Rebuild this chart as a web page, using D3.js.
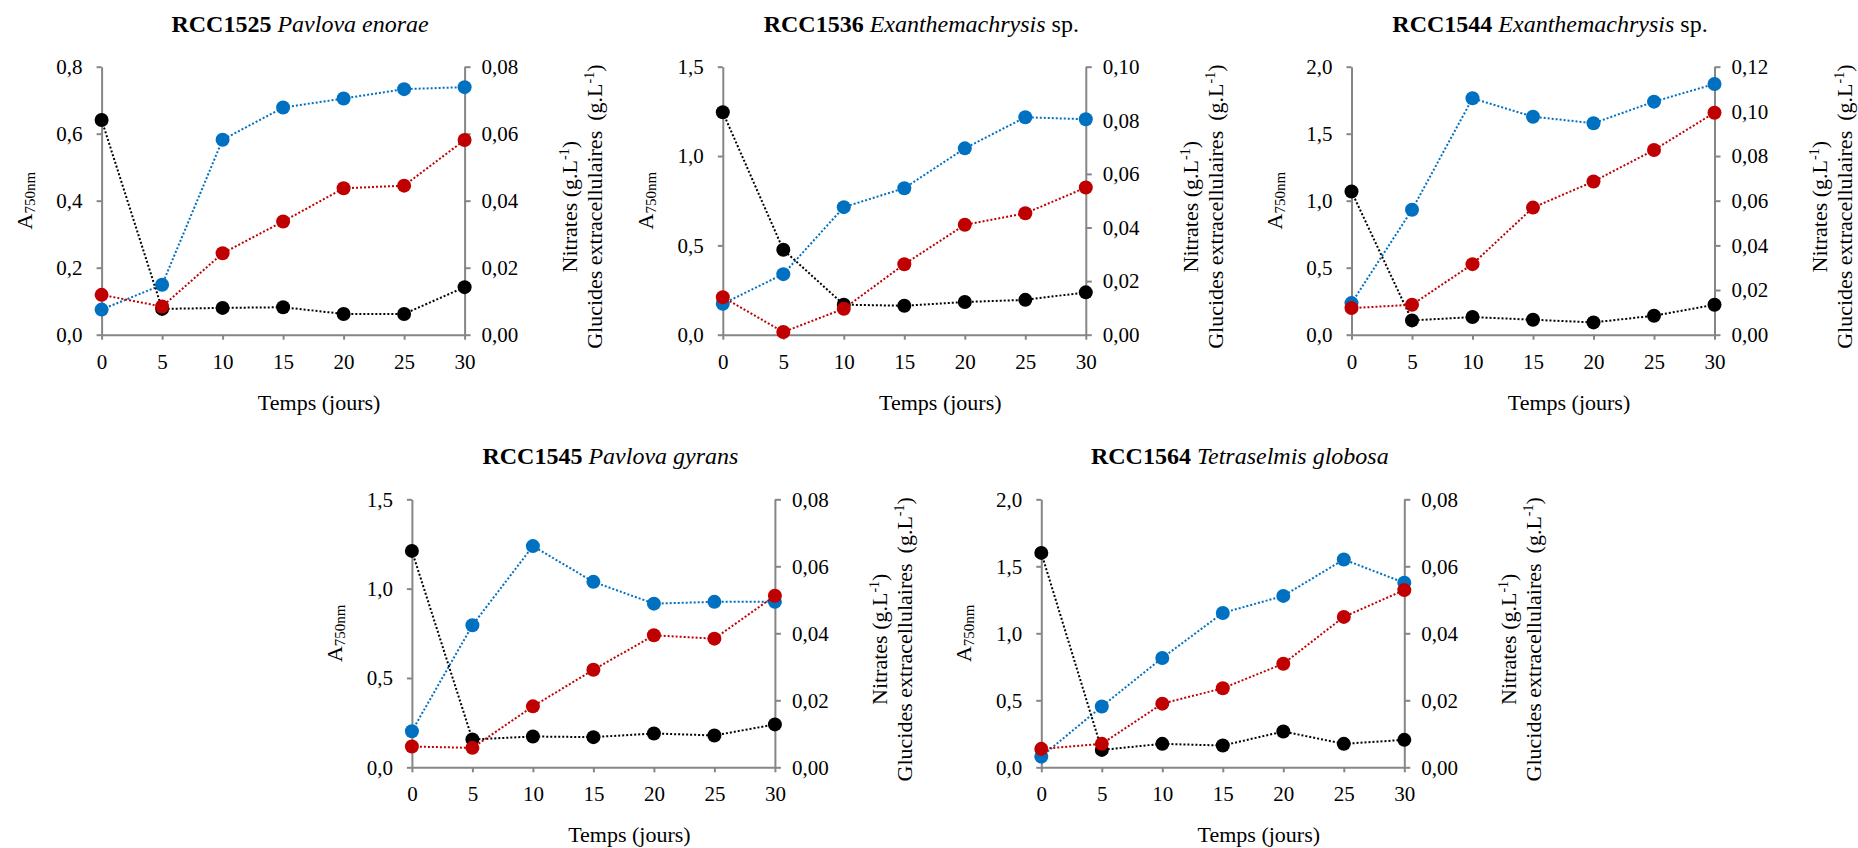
<!DOCTYPE html>
<html><head><meta charset="utf-8">
<script src="https://cdn.jsdelivr.net/npm/d3@7"></script>
<style>
body{margin:0;background:#fff}
svg{display:block;background:#fff}
text{font-family:"Liberation Serif","Times New Roman",serif;fill:#000}
</style>
</head><body><svg id="chart" width="1858" height="848"></svg>
<script>
// ---------- DATA ----------
const days = [0, 5, 10, 15, 20, 25, 30];
const xTickValues = [0, 5, 10, 15, 20, 25, 30];
const strainCodes = ["RCC1525", "RCC1536", "RCC1544", "RCC1545", "RCC1564"];
const speciesNames = ["Pavlova enorae", "Exanthemachrysis", "Exanthemachrysis", "Pavlova gyrans", "Tetraselmis globosa"];
const speciesSuffixes = ["", " sp.", " sp.", "", ""];
const leftMax = [0.8, 1.5, 2.0, 1.5, 2.0];
const leftStep = [0.2, 0.5, 0.5, 0.5, 0.5];
const rightMax = [0.08, 0.10, 0.12, 0.08, 0.08];
const rightStep = [0.02, 0.02, 0.02, 0.02, 0.02];

// A750nm (left axis, blue)
const absorbance = [
  [0.075, 0.149, 0.582, 0.678, 0.705, 0.733, 0.739],
  [0.173, 0.339, 0.714, 0.820, 1.043, 1.217, 1.206],
  [0.236, 0.932, 1.764, 1.627, 1.578, 1.739, 1.871],
  [0.202, 0.795, 1.238, 1.038, 0.916, 0.926, 0.926],
  [0.080, 0.454, 0.816, 1.152, 1.279, 1.551, 1.377]
];
// Nitrates g.L-1 (right axis, black)
const nitrates = [
  [0.0641, 0.0077, 0.0080, 0.0082, 0.0062, 0.0062, 0.0142],
  [0.0830, 0.0317, 0.0112, 0.0108, 0.0122, 0.0130, 0.0158],
  [0.0641, 0.0064, 0.0079, 0.0067, 0.0055, 0.0085, 0.0134],
  [0.0646, 0.0083, 0.0092, 0.0090, 0.0101, 0.0095, 0.0128],
  [0.0640, 0.0052, 0.0070, 0.0065, 0.0107, 0.0070, 0.0082]
];
// Glucides extracellulaires g.L-1 (right axis, red)
const glucides = [
  [0.0119, 0.0084, 0.0243, 0.0338, 0.0437, 0.0445, 0.0581],
  [0.0140, 0.0010, 0.0097, 0.0263, 0.0410, 0.0453, 0.0549],
  [0.0119, 0.0134, 0.0316, 0.0569, 0.0686, 0.0827, 0.0994],
  [0.0062, 0.0058, 0.0182, 0.0291, 0.0394, 0.0384, 0.0512],
  [0.0055, 0.0070, 0.0190, 0.0236, 0.0309, 0.0449, 0.0529]
];

// ---------- LAYOUT ----------
const panelOrigins = [[101.6, 66.7], [722.8, 66.7], [1351.5, 66.7], [411.9, 499.3], [1041.3, 499.3]];
const plotW = 363, plotH = 268;
const axisColor = "#868686";
const colBlue = "#0070C0", colRed = "#C00000", colBlack = "#000000";

const svg = d3.select("#chart");
svg.append("rect").attr("width", 1858).attr("height", 848).attr("fill", "#fff");

const fmt1 = d => d3.format(".1f")(d).replace(".", ",");
const fmt2 = d => d3.format(".2f")(d).replace(".", ",");

strainCodes.forEach((code, i) => {
  const [ox, oy] = panelOrigins[i];
  const g = svg.append("g").attr("transform", `translate(${ox},${oy})`);
  const x = d3.scaleLinear().domain([0, 30]).range([0, plotW]);
  const yL = d3.scaleLinear().domain([0, leftMax[i]]).range([plotH, 0]);
  const yR = d3.scaleLinear().domain([0, rightMax[i]]).range([plotH, 0]);

  const lTicks = d3.range(0, leftMax[i] + leftStep[i] / 2, leftStep[i]);
  const rTicks = d3.range(0, rightMax[i] + rightStep[i] / 2, rightStep[i]);

  const styleAxis = sel => {
    sel.selectAll("path,line").attr("stroke", axisColor).attr("stroke-width", 2);
    sel.selectAll("text").attr("font-size", 21).attr("fill", "#000")
      .attr("font-family", '"Liberation Serif","Times New Roman",serif');
  };

  g.append("g").call(d3.axisLeft(yL).tickValues(lTicks).tickFormat(fmt1).tickSize(5).tickSizeOuter(0).tickPadding(14)).call(styleAxis);
  g.append("g").attr("transform", `translate(${plotW},0)`)
    .call(d3.axisRight(yR).tickValues(rTicks).tickFormat(fmt2).tickSize(6).tickSizeOuter(0).tickPadding(11)).call(styleAxis);
  g.append("g").attr("transform", `translate(0,${plotH})`)
    .call(d3.axisBottom(x).tickValues(xTickValues).tickFormat(d3.format("d")).tickSize(5).tickSizeOuter(0).tickPadding(14)).call(styleAxis);

  // series
  const series = [
    {vals: absorbance[i], y: yL, color: colBlue},
    {vals: nitrates[i], y: yR, color: colBlack},
    {vals: glucides[i], y: yR, color: colRed}
  ];
  series.forEach(s => {
    const pts = days.map((d, k) => ({day: d, v: s.vals[k]}));
    const line = d3.line().x(p => x(p.day)).y(p => s.y(p.v));
    g.append("path").datum(pts).attr("d", line).attr("fill", "none")
      .attr("stroke", s.color).attr("stroke-width", 2).attr("stroke-dasharray", "2,2");
    g.selectAll(null).data(pts).enter().append("circle")
      .attr("cx", p => x(p.day)).attr("cy", p => s.y(p.v)).attr("r", 7)
      .attr("fill", s.color);
  });

  // title
  const t = g.append("text").attr("x", plotW / 2 + 17).attr("y", -35)
    .attr("text-anchor", "middle").attr("font-size", 24);
  t.append("tspan").attr("font-weight", "bold").text(code + " ");
  t.append("tspan").attr("font-style", "italic").text(speciesNames[i]);
  if (speciesSuffixes[i]) t.append("tspan").text(speciesSuffixes[i]);

  // x axis title
  g.append("text").attr("x", plotW / 2 + 36).attr("y", plotH + 75)
    .attr("text-anchor", "middle").attr("font-size", 22).text("Temps (jours)");

  // left y title
  const yl = g.append("text").attr("transform", `translate(-70,${plotH / 2}) rotate(-90)`)
    .attr("text-anchor", "middle").attr("font-size", 22);
  yl.append("tspan").text("A");
  yl.append("tspan").attr("font-size", 15).attr("dy", 3).text("750nm");

  // right y titles
  const r1 = g.append("text").attr("transform", `translate(${plotW + 112},${plotH / 2 + 6}) rotate(-90)`)
    .attr("text-anchor", "middle").attr("font-size", 22);
  r1.append("tspan").text("Nitrates (g.L");
  r1.append("tspan").attr("font-size", 14).attr("dy", -8).text("-1");
  r1.append("tspan").attr("dy", 8).text(")");

  const r2 = g.append("text").attr("transform", `translate(${plotW + 137},${plotH / 2 + 6}) rotate(-90)`)
    .attr("text-anchor", "middle").attr("font-size", 22);
  r2.append("tspan").text("Glucides extracellulaires");
  r2.append("tspan").attr("dx", 10).text("(g.L");
  r2.append("tspan").attr("font-size", 14).attr("dy", -8).text("-1");
  r2.append("tspan").attr("dy", 8).text(")");
});
</script>
</body></html>
